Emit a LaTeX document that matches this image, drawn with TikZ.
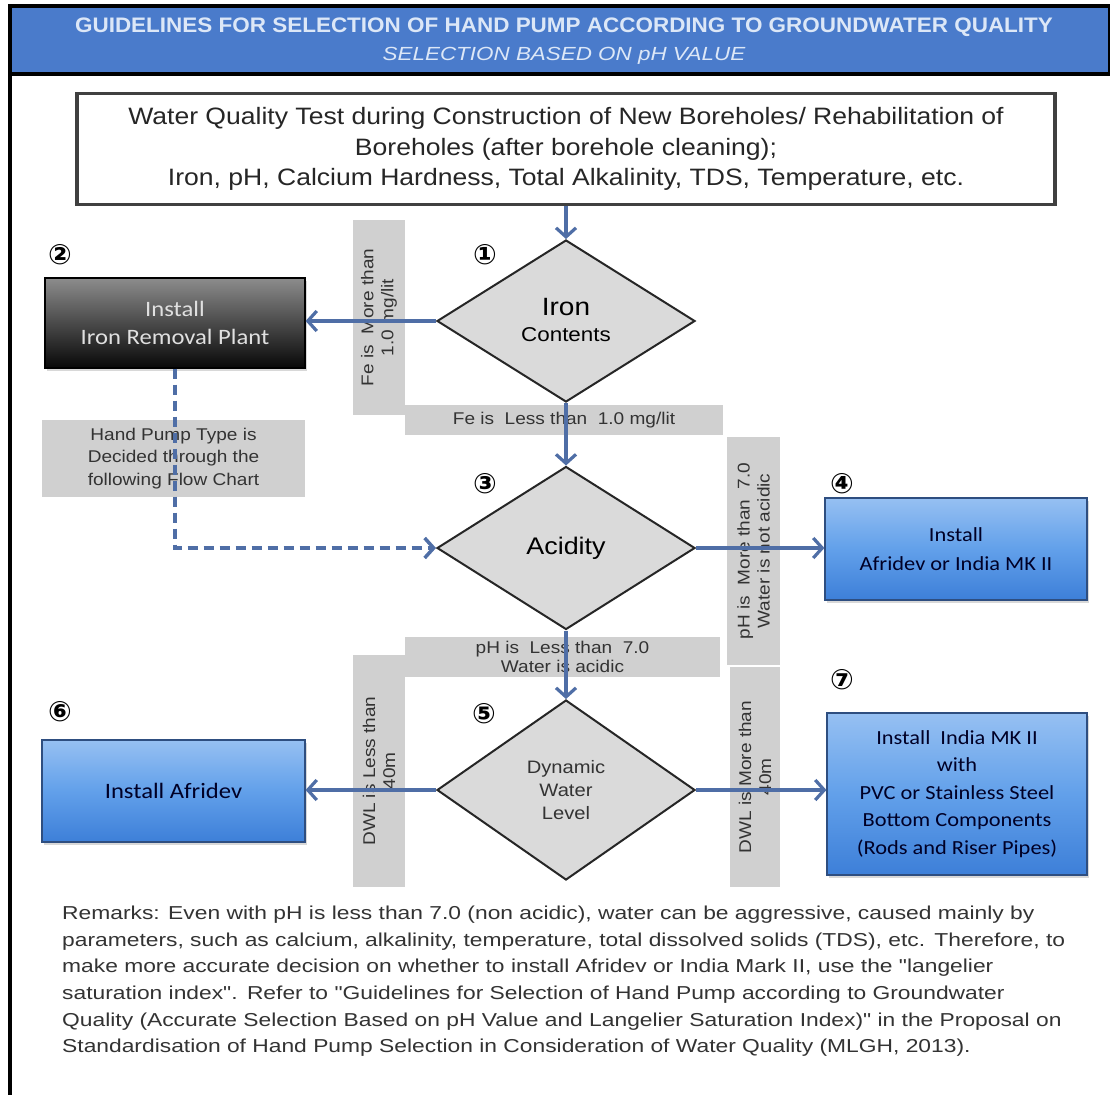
\documentclass[tikz,border=0pt]{standalone}
\usepackage{fontspec}
\setmainfont{Liberation Sans}
\newfontfamily\calibw[FakeStretch=1.12]{Carlito}
\newfontfamily\dvsans{DejaVu Sans}
\newfontfamily\wideA[FakeStretch=1.12]{Liberation Sans}
\newfontfamily\wideB[FakeStretch=1.22]{Liberation Sans}
\newfontfamily\titlefont[FakeStretch=1.07]{Liberation Sans}
\newfontfamily\subfont[FakeStretch=1.18]{Liberation Sans}
\newcommand{\dq}{\symbol{34}}
\usetikzlibrary{shapes.geometric,arrows.meta,shadows}
\definecolor{hdrblue}{HTML}{4A7BCB}
\definecolor{hdrtext}{HTML}{DCE7F7}
\definecolor{lblgrey}{HTML}{D0D0D0}
\definecolor{conn}{HTML}{4F6EA6}
\definecolor{dfill}{HTML}{DADADA}
\definecolor{bluetop}{HTML}{96C0F2}
\definecolor{bluemid}{HTML}{62A0EA}
\definecolor{bluebot}{HTML}{3D7FD8}
\definecolor{blueedge}{HTML}{2E4E80}
\definecolor{txtgrey}{HTML}{333333}
\tikzset{
  lbl/.style={fill=lblgrey, inner sep=0pt, text=txtgrey, align=center,
    font=\wideA\fontsize{17}{20}\selectfont},
  dia/.style={diamond, draw=black!85, line width=2pt, fill=dfill, inner sep=0pt, align=center},
  bluebox/.style={rectangle, draw=blueedge, line width=1.2pt, top color=bluetop, bottom color=bluebot,
    middle color=bluemid, align=center, text=black!85!blue, inner sep=0pt,
    drop shadow={opacity=0.3, shadow xshift=2pt, shadow yshift=-3pt}},
  darkbox/.style={rectangle, draw=black, line width=1.2pt, top color=black!45, bottom color=black!97,
    align=center, text=black!12, inner sep=0pt,
    drop shadow={opacity=0.3, shadow xshift=2pt, shadow yshift=-3pt}},
  conn/.style={draw=conn, line width=3.2pt, -{Straight Barb[length=9pt,width=20pt]}},
  dconn/.style={draw=conn, line width=3.5pt, dash pattern=on 10pt off 6pt, -{Straight Barb[length=9pt,width=20pt]}},
  num/.style={font=\dvsans\bfseries\fontsize{28}{30}\selectfont, inner sep=0pt},
}
\begin{document}
\begin{tikzpicture}[x=1pt,y=-1pt]
\useasboundingbox (0,0) rectangle (1110,1095);
\fill[white] (0,0) rectangle (1110,1095);
% frame
\draw[line width=4pt, black] (10,5) -- (10,1095);
\node[rectangle, draw=black, line width=4pt, fill=hdrblue, minimum width=1100pt, minimum height=68pt, inner sep=0pt] (hdr) at (560,40) {};
\node[text=hdrtext, font=\titlefont\bfseries\fontsize{21}{24}\selectfont, inner sep=0pt] (title) at (564,27) {GUIDELINES FOR SELECTION OF HAND PUMP ACCORDING TO GROUNDWATER QUALITY};
\node[text=hdrtext, font=\subfont\itshape\fontsize{19}{21}\selectfont, inner sep=0pt] (subtitle) at (564,56) {SELECTION BASED ON pH VALUE};

% top box
\node[rectangle, draw=black!75, line width=3.5pt, fill=white, minimum width=978pt, minimum height=111pt, inner sep=0pt,
  align=center, text=black!85, font=\wideA\fontsize{23.7}{30.5}\selectfont] (top) at (566,149)
  {Water Quality Test during Construction of New Boreholes/ Rehabilitation of\\Boreholes (after borehole cleaning);\\Iron, pH, Calcium Hardness, Total Alkalinity, TDS, Temperature, etc.};

% labels
\node[lbl, rotate=90, minimum width=195pt, minimum height=52pt] (lFeMore) at (379,317.5) {Fe is\ \ More than\\1.0 mg/lit};
\node[lbl, minimum width=318pt, minimum height=30pt] (lFeLess) at (564,420) {Fe is\ \ Less than\ \ 1.0 mg/lit};
\node[lbl, minimum width=263pt, minimum height=77pt, font=\wideA\fontsize{17}{22.5}\selectfont] (lHand) at (173.5,458.5) {Hand Pump Type is\\Decided through the\\following Flow Chart};
\node[lbl, rotate=90, minimum width=228pt, minimum height=53pt] (lpHMore) at (753.5,551) {pH is\ \ More than\ \ 7.0\\Water is not acidic};
\node[lbl, rotate=90, minimum width=232pt, minimum height=52pt] (lDWLLess) at (379,771) {DWL is Less than\\40m};
\node[lbl, minimum width=315pt, minimum height=40pt, font=\wideA\fontsize{17}{19}\selectfont] (lpHLess) at (562.5,657) {pH is\ \ Less than\ \ 7.0\\Water is acidic};
\node[lbl, rotate=90, minimum width=220pt, minimum height=50pt] (lDWLMore) at (755,777) {DWL is More than\\40m};

% diamonds
\node[dia, minimum width=258pt, minimum height=162pt] (d1) at (566,321) {};
\node[inner sep=0pt, align=center] (d1text) at (566,320)
  {{\wideA\fontsize{25}{27}\selectfont Iron}\\[11pt]{\wideA\fontsize{20}{22}\selectfont Contents}};
\node[dia, minimum width=258pt, minimum height=163pt, font=\wideA\fontsize{24}{26}\selectfont] (d3) at (566,548) {Acidity};
\node[dia, minimum width=258pt, minimum height=180pt, font=\wideA\fontsize{18}{23}\selectfont, text=black!80] (d5) at (566,790) {Dynamic\\Water\\Level};

% boxes
\node[darkbox, minimum width=260pt, minimum height=90pt, font=\calibw\fontsize{22}{28}\selectfont] (b2) at (175,323) {Install\\Iron Removal Plant};
\node[bluebox, minimum width=262pt, minimum height=102pt, font=\calibw\fontsize{20}{29}\selectfont] (b4) at (956,549) {Install\\Afridev or India MK II};
\node[bluebox, minimum width=263pt, minimum height=102pt, font=\calibw\fontsize{22}{25}\selectfont] (b6) at (173.5,791) {Install Afridev};
\node[bluebox, minimum width=260pt, minimum height=162pt, font=\calibw\fontsize{20}{27.5}\selectfont] (b7) at (957,794)
  {Install\enspace India MK II\\with\\PVC or Stainless Steel\\Bottom Components\\(Rods and Riser Pipes)};

% numbers
\node[num] (n1) at (485,255) {①};
\node[num] (n2) at (60,255) {②};
\node[num] (n3) at (485,484) {③};
\node[num] (n4) at (842,484) {④};
\node[num] (n5) at (484,714) {⑤};
\node[num] (n6) at (60,712) {⑥};
\node[num] (n7) at (842,680) {⑦};

% connectors
\draw[conn] (top.south) -- (d1.north);
\draw[conn] (d1.west) -- (d1.west -| b2.east);
\draw[conn] (d1.south) -- (d3.north);
\draw[conn] (d3.east) -- (d3.east -| b4.west);
\draw[conn] (d3.south) -- (d5.north);
\draw[conn] (d5.west) -- (d5.west -| b6.east);
\draw[conn] (d5.east) -- (d5.east -| b7.west);
\draw[dconn] (b2.south) |- (d3.west);

% remarks
\node[anchor=north west, align=left, inner sep=0pt, text=txtgrey, font=\wideB\fontsize{18.7}{26.6}\selectfont] (rem) at (62,906)
  {Remarks: Even with pH is less than 7.0 (non acidic), water can be aggressive, caused mainly by\\
   parameters, such as calcium, alkalinity, temperature, total dissolved solids (TDS), etc.\enspace Therefore, to\\
   make more accurate decision on whether to install Afridev or India Mark II, use the \dq langelier\\
   saturation index\dq.\enspace Refer to \dq Guidelines for Selection of Hand Pump according to Groundwater\\
   Quality (Accurate Selection Based on pH Value and Langelier Saturation Index)\dq\ in the Proposal on\\
   Standardisation of Hand Pump Selection in Consideration of Water Quality (MLGH, 2013).};
\end{tikzpicture}
\end{document}
